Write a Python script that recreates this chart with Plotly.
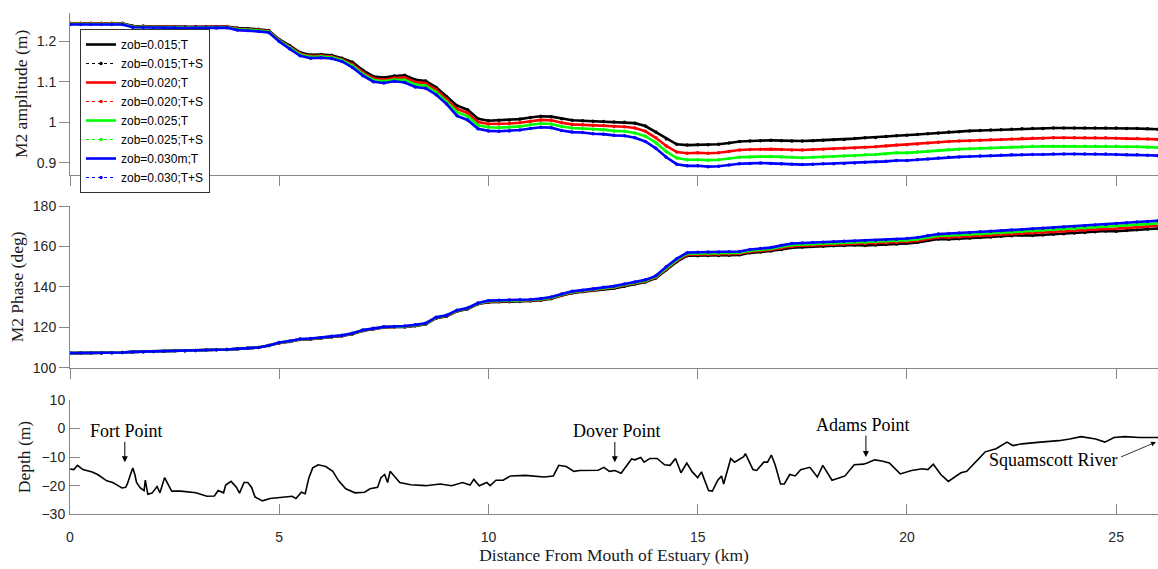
import plotly.graph_objects as go

# ---------------- data ----------------
dist_km = [0.00, 0.25, 0.50, 0.75, 1.00, 1.25, 1.50, 1.75, 2.00, 2.25, 2.50, 2.75, 3.00, 3.25, 3.50,
           3.75, 4.00, 4.25, 4.50, 4.75, 5.00, 5.25, 5.50, 5.75, 6.00, 6.25, 6.50, 6.75, 7.00, 7.25,
           7.50, 7.75, 8.00, 8.25, 8.50, 8.75, 9.00, 9.25, 9.50, 9.75, 10.00, 10.25, 10.50, 10.75,
           11.00, 11.25, 11.50, 11.75, 12.00, 12.25, 12.50, 12.75, 13.00, 13.25, 13.50, 13.75, 14.00,
           14.25, 14.50, 14.75, 15.00, 15.25, 15.50, 15.75, 16.00, 16.25, 16.50, 16.75, 17.00, 17.25,
           17.50, 17.75, 18.00, 18.25, 18.50, 18.75, 19.00, 19.25, 19.50, 19.75, 20.00, 20.25, 20.50,
           20.75, 21.00, 21.25, 21.50, 21.75, 22.00, 22.25, 22.50, 22.75, 23.00, 23.25, 23.50, 23.75,
           24.00, 24.25, 24.50, 24.75, 25.00, 25.25, 25.50, 25.75, 26.00]

amp_015 = [1.244, 1.244, 1.244, 1.244, 1.244, 1.244, 1.237, 1.237, 1.236, 1.236, 1.236, 1.235, 1.235,
           1.235, 1.235, 1.236, 1.232, 1.231, 1.229, 1.226, 1.204, 1.189, 1.172, 1.166, 1.167, 1.165,
           1.158, 1.148, 1.128, 1.113, 1.110, 1.114, 1.116, 1.105, 1.102, 1.086, 1.063, 1.041, 1.031,
           1.009, 1.004, 1.005, 1.006, 1.008, 1.012, 1.015, 1.014, 1.009, 1.005, 1.004, 1.003, 1.002,
           1.001, 1.000, 0.998, 0.991, 0.976, 0.959, 0.946, 0.944, 0.945, 0.945, 0.946, 0.949, 0.953,
           0.954, 0.955, 0.956, 0.955, 0.954, 0.954, 0.955, 0.956, 0.957, 0.958, 0.960, 0.962, 0.963,
           0.965, 0.967, 0.968, 0.970, 0.972, 0.974, 0.976, 0.977, 0.979, 0.980, 0.981, 0.982, 0.983,
           0.984, 0.985, 0.985, 0.986, 0.986, 0.986, 0.986, 0.986, 0.986, 0.986, 0.985, 0.985, 0.984,
           0.983]
amp_020 = [1.243, 1.243, 1.243, 1.243, 1.243, 1.243, 1.236, 1.236, 1.235, 1.235, 1.235, 1.234, 1.234,
           1.234, 1.234, 1.235, 1.230, 1.229, 1.227, 1.224, 1.202, 1.186, 1.169, 1.163, 1.164, 1.162,
           1.155, 1.143, 1.123, 1.108, 1.105, 1.109, 1.110, 1.099, 1.096, 1.080, 1.057, 1.033, 1.023,
           1.001, 0.996, 0.996, 0.997, 0.999, 1.003, 1.006, 1.005, 0.999, 0.995, 0.994, 0.993, 0.992,
           0.990, 0.989, 0.986, 0.978, 0.962, 0.942, 0.927, 0.924, 0.925, 0.924, 0.925, 0.928, 0.932,
           0.933, 0.934, 0.934, 0.933, 0.932, 0.932, 0.933, 0.934, 0.935, 0.936, 0.937, 0.939, 0.940,
           0.942, 0.944, 0.945, 0.947, 0.949, 0.951, 0.953, 0.954, 0.955, 0.956, 0.957, 0.958, 0.959,
           0.960, 0.961, 0.961, 0.962, 0.962, 0.962, 0.962, 0.962, 0.962, 0.961, 0.960, 0.960, 0.959,
           0.958]
amp_025 = [1.242, 1.242, 1.242, 1.242, 1.242, 1.242, 1.235, 1.235, 1.234, 1.234, 1.234, 1.233, 1.233,
           1.233, 1.233, 1.234, 1.229, 1.228, 1.226, 1.223, 1.201, 1.184, 1.167, 1.161, 1.162, 1.160,
           1.153, 1.139, 1.119, 1.104, 1.101, 1.105, 1.104, 1.093, 1.090, 1.074, 1.051, 1.025, 1.015,
           0.993, 0.988, 0.987, 0.988, 0.990, 0.994, 0.997, 0.996, 0.990, 0.986, 0.985, 0.983, 0.982,
           0.979, 0.978, 0.974, 0.966, 0.950, 0.928, 0.912, 0.908, 0.908, 0.907, 0.908, 0.911, 0.914,
           0.915, 0.916, 0.916, 0.915, 0.914, 0.913, 0.914, 0.915, 0.916, 0.917, 0.918, 0.920, 0.921,
           0.923, 0.925, 0.925, 0.927, 0.929, 0.931, 0.933, 0.934, 0.935, 0.936, 0.937, 0.938, 0.939,
           0.940, 0.941, 0.941, 0.941, 0.941, 0.941, 0.941, 0.941, 0.941, 0.941, 0.940, 0.940, 0.939,
           0.938]
amp_030 = [1.241, 1.241, 1.241, 1.241, 1.241, 1.241, 1.234, 1.234, 1.233, 1.233, 1.233, 1.232, 1.232,
           1.232, 1.232, 1.233, 1.227, 1.226, 1.224, 1.221, 1.199, 1.181, 1.164, 1.158, 1.159, 1.157,
           1.150, 1.135, 1.115, 1.100, 1.097, 1.101, 1.098, 1.087, 1.084, 1.068, 1.045, 1.016, 1.006,
           0.984, 0.979, 0.978, 0.979, 0.981, 0.985, 0.988, 0.987, 0.980, 0.976, 0.975, 0.972, 0.971,
           0.968, 0.967, 0.962, 0.953, 0.936, 0.914, 0.897, 0.893, 0.893, 0.891, 0.892, 0.895, 0.898,
           0.899, 0.900, 0.899, 0.898, 0.897, 0.896, 0.897, 0.898, 0.898, 0.899, 0.900, 0.902, 0.903,
           0.904, 0.906, 0.906, 0.908, 0.910, 0.912, 0.914, 0.915, 0.916, 0.917, 0.918, 0.919, 0.920,
           0.920, 0.921, 0.921, 0.922, 0.922, 0.922, 0.922, 0.922, 0.922, 0.921, 0.920, 0.920, 0.919,
           0.918]

pha_030 = [107.2, 107.2, 107.3, 107.3, 107.4, 107.5, 107.8, 107.9, 108.0, 108.1, 108.3, 108.4, 108.5,
           108.7, 108.8, 109.0, 109.3, 109.6, 110.0, 111.0, 112.5, 113.2, 114.2, 114.4, 114.8, 115.5,
           116.0, 117.0, 118.6, 119.5, 120.2, 120.4, 120.6, 121.2, 122.0, 125.0, 126.0, 128.5, 129.6,
           132.0, 133.2, 133.4, 133.5, 133.6, 133.8, 134.2, 135.0, 136.5, 137.8, 138.4, 139.0, 139.8,
           140.4, 141.5, 142.5, 143.5, 145.5, 150.0, 154.0, 157.0, 157.2, 157.3, 157.3, 157.4, 157.6,
           158.6, 159.0, 159.5, 160.6, 161.5, 161.8, 162.0, 162.2, 162.4, 162.6, 162.8, 163.0, 163.2,
           163.4, 163.7, 164.0, 164.5, 165.5, 166.2, 166.5, 166.7, 167.0, 167.3, 167.6, 167.9, 168.2,
           168.5, 168.8, 169.1, 169.4, 169.7, 170.0, 170.3, 170.7, 171.0, 171.4, 171.8, 172.2, 172.5,
           172.8]
pha_025 = [107.2, 107.2, 107.3, 107.3, 107.4, 107.5, 107.8, 107.9, 108.0, 108.1, 108.3, 108.4, 108.5,
           108.7, 108.8, 109.0, 109.3, 109.6, 110.0, 111.0, 112.4, 113.1, 114.1, 114.3, 114.7, 115.4,
           115.9, 116.9, 118.5, 119.4, 120.1, 120.3, 120.4, 121.0, 121.8, 124.8, 125.8, 128.3, 129.4,
           131.8, 132.9, 133.1, 133.2, 133.3, 133.5, 133.9, 134.7, 136.2, 137.5, 138.1, 138.7, 139.5,
           140.0, 141.1, 142.1, 143.1, 145.1, 149.5, 153.5, 156.5, 156.6, 156.7, 156.7, 156.8, 157.0,
           158.0, 158.4, 158.9, 159.9, 160.8, 161.1, 161.3, 161.5, 161.7, 161.9, 162.1, 162.2, 162.4,
           162.6, 162.9, 163.2, 163.7, 164.7, 165.4, 165.5, 165.7, 166.0, 166.3, 166.6, 166.9, 167.2,
           167.5, 167.7, 168.0, 168.3, 168.6, 168.9, 169.2, 169.6, 169.9, 170.1, 170.5, 170.9, 171.2,
           171.5]
pha_020 = [107.2, 107.2, 107.3, 107.3, 107.4, 107.5, 107.8, 107.9, 108.0, 108.1, 108.3, 108.4, 108.5,
           108.7, 108.8, 109.0, 109.3, 109.6, 110.0, 111.0, 112.3, 113.0, 114.0, 114.2, 114.6, 115.3,
           115.8, 116.8, 118.4, 119.3, 120.0, 120.2, 120.3, 120.9, 121.7, 124.7, 125.7, 128.2, 129.3,
           131.7, 132.7, 132.9, 133.0, 133.1, 133.3, 133.7, 134.5, 136.0, 137.3, 137.9, 138.5, 139.3,
           139.7, 140.8, 141.8, 142.8, 144.8, 149.0, 153.0, 156.0, 156.1, 156.2, 156.2, 156.3, 156.5,
           157.5, 157.9, 158.4, 159.3, 160.2, 160.5, 160.7, 160.9, 161.1, 161.3, 161.5, 161.4, 161.6,
           161.8, 162.1, 162.4, 162.9, 163.9, 164.6, 164.6, 164.8, 165.1, 165.4, 165.7, 166.0, 166.3,
           166.6, 166.6, 166.9, 167.2, 167.5, 167.8, 168.1, 168.5, 168.8, 168.9, 169.3, 169.7, 170.0,
           170.3]
pha_015 = [107.2, 107.2, 107.3, 107.3, 107.4, 107.5, 107.8, 107.9, 108.0, 108.1, 108.3, 108.4, 108.5,
           108.7, 108.8, 109.0, 109.3, 109.6, 110.0, 111.0, 112.2, 112.9, 113.9, 114.1, 114.5, 115.2,
           115.7, 116.7, 118.3, 119.2, 119.9, 120.1, 120.1, 120.7, 121.5, 124.5, 125.5, 128.0, 129.1,
           131.5, 132.4, 132.6, 132.7, 132.8, 133.0, 133.4, 134.2, 135.7, 137.0, 137.6, 138.2, 139.0,
           139.3, 140.4, 141.4, 142.4, 144.4, 148.5, 152.5, 155.5, 155.5, 155.6, 155.6, 155.7, 155.9,
           156.9, 157.3, 157.8, 158.6, 159.5, 159.8, 160.0, 160.2, 160.4, 160.6, 160.8, 160.6, 160.8,
           161.0, 161.3, 161.6, 162.1, 163.1, 163.8, 163.7, 163.9, 164.2, 164.5, 164.8, 165.1, 165.4,
           165.7, 165.5, 165.8, 166.1, 166.4, 166.7, 167.0, 167.4, 167.7, 167.6, 168.0, 168.4, 168.7,
           169.0]

depth_km = [0.00, 0.09, 0.18, 0.31, 0.53, 0.66, 0.88, 1.02, 1.15, 1.24,
            1.33, 1.37, 1.46, 1.50, 1.55, 1.59, 1.68, 1.77, 1.80, 1.86,
            1.96, 2.08, 2.15, 2.26, 2.43, 2.65, 3.01, 3.27, 3.45, 3.54,
            3.67, 3.72, 3.85, 3.98, 4.05, 4.16, 4.25, 4.34, 4.42, 4.60,
            4.78, 5.04, 5.31, 5.40, 5.53, 5.62, 5.71, 5.80, 5.93, 6.11,
            6.28, 6.42, 6.59, 6.81, 7.04, 7.17, 7.35, 7.43, 7.52, 7.59,
            7.65, 7.88, 8.14, 8.50, 8.85, 9.12, 9.38, 9.56, 9.65, 9.78,
            9.96, 10.04, 10.18, 10.35, 10.53, 10.88, 11.33, 11.55, 11.68, 11.86,
            12.04, 12.18, 12.62, 12.76, 12.89, 13.02, 13.17, 13.42, 13.50, 13.64,
            13.72, 13.86, 14.03, 14.21, 14.34, 14.47, 14.60, 14.74, 14.87, 15.00,
            15.09, 15.26, 15.35, 15.48, 15.57, 15.62, 15.79, 15.88, 16.10, 16.14,
            16.32, 16.41, 16.58, 16.67, 16.76, 16.85, 16.98, 17.07, 17.20, 17.33,
            17.46, 17.68, 17.86, 17.99, 18.21, 18.39, 18.52, 18.74, 18.96, 19.05,
            19.23, 19.40, 19.58, 19.84, 20.11, 20.37, 20.50, 20.63, 20.81, 20.99,
            21.12, 21.29, 21.43, 21.87, 22.13, 22.39, 22.53, 22.75, 23.19, 23.63,
            23.89, 24.16, 24.51, 24.73, 24.95, 25.21, 25.56, 26.00]
depth_m = [-14.2, -14.4, -12.9, -14.4, -15.2, -16.1, -18.3, -18.9, -20.0, -20.8,
           -20.6, -19.4, -15.5, -13.8, -16.1, -18.9, -20.8, -21.7, -18.1, -23.0,
           -22.6, -20.3, -22.5, -17.2, -21.9, -21.9, -22.5, -23.7, -23.6, -21.7,
           -22.5, -19.8, -18.5, -20.6, -22.6, -18.9, -18.9, -20.6, -23.9, -25.3,
           -24.5, -24.2, -23.7, -24.5, -22.3, -22.8, -17.2, -13.8, -12.7, -13.3,
           -15.0, -18.3, -21.1, -22.5, -22.3, -21.1, -20.6, -17.2, -16.1, -18.9,
           -15.0, -18.9, -19.7, -20.0, -19.4, -20.0, -18.9, -19.8, -17.8, -20.0,
           -18.9, -20.0, -18.1, -18.1, -16.6, -16.4, -17.0, -16.6, -12.9, -13.3,
           -15.0, -14.7, -14.6, -13.6, -15.0, -14.7, -15.7, -10.7, -11.0, -10.2,
           -11.8, -10.5, -10.5, -12.7, -12.9, -10.5, -15.5, -12.1, -15.2, -17.2,
           -15.2, -21.7, -21.9, -18.1, -16.6, -19.4, -10.5, -11.8, -9.9, -8.8,
           -14.4, -14.7, -11.8, -11.8, -9.3, -12.7, -19.4, -19.4, -16.1, -16.6,
           -14.4, -13.6, -17.0, -12.9, -18.1, -17.2, -16.6, -12.7, -12.5, -12.1,
           -11.0, -11.4, -12.1, -15.9, -14.7, -14.1, -14.4, -12.5, -16.1, -18.5,
           -17.2, -15.5, -15.0, -8.2, -7.1, -4.8, -6.0, -5.4, -4.8, -4.3,
           -3.7, -2.9, -3.7, -4.8, -3.2, -2.9, -3.2, -3.2]

series_names_T = ["zob=0.015;T", "zob=0.020;T", "zob=0.025;T", "zob=0.030m;T"]
series_names_TS = ["zob=0.015;T+S", "zob=0.020;T+S", "zob=0.025;T+S", "zob=0.030;T+S"]
series_colors = ["#000000", "#ff0000", "#00ff00", "#0000ff"]
amp_T = [amp_015, amp_020, amp_025, amp_030]
amp_TS = [amp_015, amp_020, amp_025, amp_030]
pha_T = [pha_015, pha_020, pha_025, pha_030]
pha_TS = [pha_015, pha_020, pha_025, pha_030]

landmark_names = ["Fort Point", "Dover Point", "Adams Point"]
landmark_km = [1.31, 13.02, 19.02]
landmark_tip = [-11.8, -11.8, -10.0]
landmark_tail = [-4.2, -4.2, -2.0]
landmark_text_km = [1.35, 13.07, 18.95]
landmark_text_y = [-0.8, -0.8, 1.3]

amp_ticks = [0.9, 1.0, 1.1, 1.2]
pha_ticks = [100, 120, 140, 160, 180]
dep_ticks = [-30, -20, -10, 0, 10]
km_ticks = [0, 5, 10, 15, 20, 25]

# ---------------- figure ----------------
fig = go.Figure()

for i in range(4):
    c = series_colors[i]
    fig.add_trace(go.Scatter(x=dist_km, y=amp_T[i], mode="lines", name=series_names_T[i],
                             line=dict(color=c, width=2.6), xaxis="x", yaxis="y"))
    fig.add_trace(go.Scatter(x=dist_km, y=amp_TS[i], mode="lines+markers", name=series_names_TS[i],
                             line=dict(color=c, width=1, dash="dot"),
                             marker=dict(color=c, size=3.5), xaxis="x", yaxis="y"))
for i in range(4):
    c = series_colors[i]
    fig.add_trace(go.Scatter(x=dist_km, y=pha_T[i], mode="lines", showlegend=False,
                             line=dict(color=c, width=2.6), xaxis="x2", yaxis="y2"))
    fig.add_trace(go.Scatter(x=dist_km, y=pha_TS[i], mode="lines+markers", showlegend=False,
                             line=dict(color=c, width=1, dash="dot"),
                             marker=dict(color=c, size=3.5), xaxis="x2", yaxis="y2"))

fig.add_trace(go.Scatter(x=depth_km, y=depth_m, mode="lines", showlegend=False,
                         line=dict(color="#000000", width=1.6), xaxis="x3", yaxis="y3"))

AXC = "#868686"
TICKF = dict(family="Liberation Sans, Arial, sans-serif", size=14, color="#262626")
TITLEF = dict(family="Liberation Serif, Times New Roman, serif", size=17.5, color="#1a1a1a")

common_x = dict(range=[0, 26], tickvals=km_ticks, showgrid=False, zeroline=False, showline=True,
                linecolor=AXC, linewidth=1, tickcolor=AXC, ticklen=10, tickfont=TICKF)
common_y = dict(showgrid=False, zeroline=False, showline=True, linecolor=AXC, linewidth=1,
                tickcolor=AXC, ticklen=10, tickfont=TICKF)

fig.update_layout(
    width=1158, height=569,
    margin=dict(l=70, r=0, t=0, b=0),
    paper_bgcolor="white", plot_bgcolor="white",
    showlegend=True,
    xaxis=dict(common_x, domain=[0, 1], anchor="y", ticks="outside", showticklabels=False),
    yaxis=dict(common_y, domain=[0.6977, 0.9916], range=[0.87, 1.27], tickvals=amp_ticks,
               ticks="outside", title=dict(text="M2 amplitude (m)", font=TITLEF, standoff=4)),
    xaxis2=dict(common_x, domain=[0, 1], anchor="y2", ticks="outside", showticklabels=False),
    yaxis2=dict(common_y, domain=[0.3497, 0.6415], range=[100, 180], tickvals=pha_ticks,
                ticks="outside", title=dict(text="M2 Phase (deg)", font=TITLEF, standoff=4)),
    xaxis3=dict(common_x, domain=[0, 1], anchor="y3", ticks="inside", ticklabelstandoff=10,
                title=dict(text="Distance From Mouth of Estuary (km)", font=TITLEF, standoff=3)),
    yaxis3=dict(common_y, domain=[0.0844, 0.2917], range=[-30, 10], tickvals=dep_ticks,
                ticks="inside", ticklabelstandoff=1,
                title=dict(text="Depth (m)", font=TITLEF, standoff=6)),
    legend=dict(x=0.0092, y=0.962, xanchor="left", yanchor="top",
                bgcolor="white", bordercolor="#333333", borderwidth=1,
                font=dict(family="Liberation Sans, Arial, sans-serif", size=12, color="#000000"),
                itemwidth=30, tracegroupgap=0),
)

ANNF = dict(family="Liberation Serif, Times New Roman, serif", size=18, color="#000000")
for name, xk, tip, tail, tx, ty in zip(landmark_names, landmark_km, landmark_tip, landmark_tail,
                                       landmark_text_km, landmark_text_y):
    fig.add_annotation(x=tx, y=ty, xref="x3", yref="y3", text=name, showarrow=False, font=ANNF)
    fig.add_annotation(x=xk, y=tip, ax=xk, ay=tail, xref="x3", yref="y3", axref="x3", ayref="y3",
                       text="", showarrow=True, arrowhead=2, arrowsize=1.2, arrowwidth=1,
                       arrowcolor="#000000")

fig.add_annotation(x=23.5, y=-11.0, xref="x3", yref="y3", text="Squamscott River",
                   showarrow=False, font=ANNF)
fig.add_annotation(x=25.95, y=-4.8, ax=25.08, ay=-10.2, xref="x3", yref="y3", axref="x3",
                   ayref="y3", text="", showarrow=True, arrowhead=2, arrowsize=1.2,
                   arrowwidth=0.8, arrowcolor="#000000")

fig.write_html("out.html")
